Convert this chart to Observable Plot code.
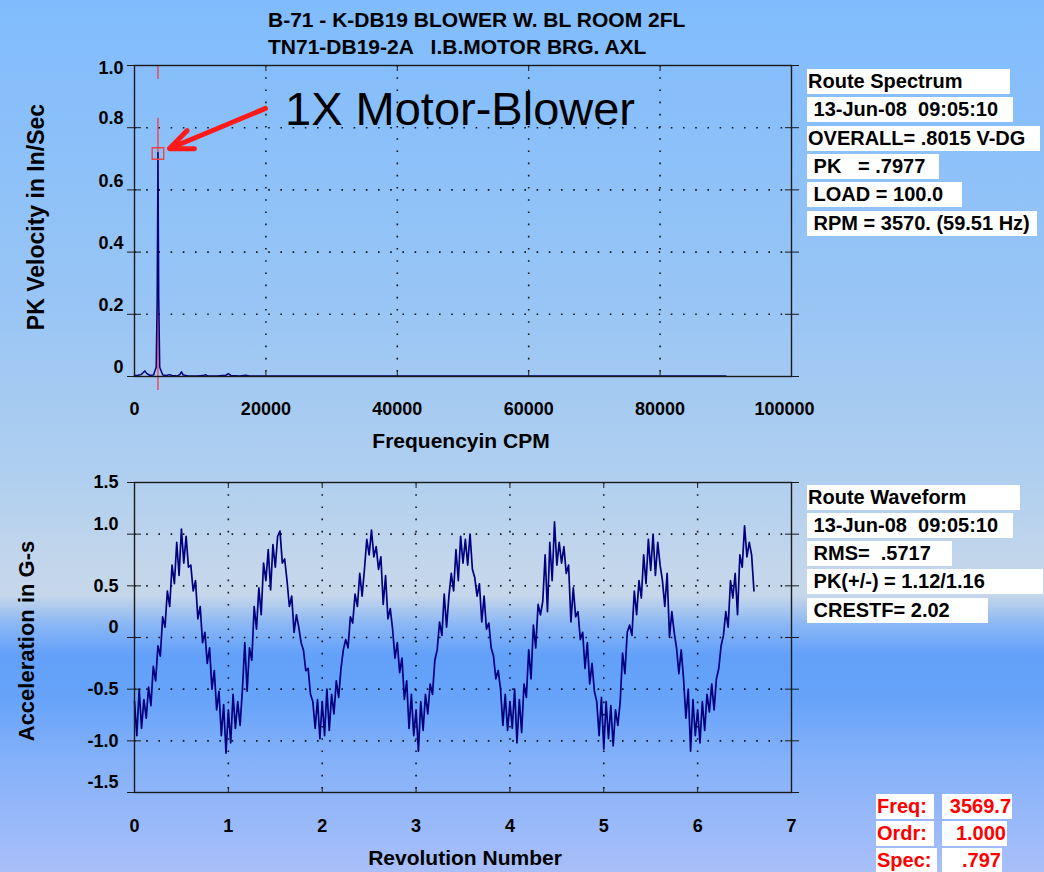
<!DOCTYPE html>
<html><head><meta charset="utf-8">
<script src="https://cdn.jsdelivr.net/npm/d3@7"></script>
<script src="https://cdn.jsdelivr.net/npm/@observablehq/plot@0.6"></script>
<style>
html,body{margin:0;padding:0;}
#root{position:relative;width:1044px;height:872px;overflow:hidden;
 font-family:"Liberation Sans",Arial,Helvetica,sans-serif;color:#000;
 background:linear-gradient(to bottom,#80bcfd 0px,#98c5f5 300px,#b0cfef 480px,#c2d6eb 560px,#c6d7ea 595px,#89b6f4 625px,#62a0f9 655px,#67a3f9 700px,#84b1f9 760px,#a9bff9 872px);}
.t{position:absolute;white-space:pre;}
.box{position:absolute;background:#fff;height:25px;line-height:25px;font-size:20px;font-weight:bold;white-space:pre;padding-left:1px;box-sizing:border-box;}
</style></head>
<body><div id="root"></div>
<script>
// ---------------- data ----------------
const titleLines = ["B-71 - K-DB19 BLOWER W. BL ROOM 2FL", "TN71-DB19-2A   I.B.MOTOR BRG. AXL"];
const spectrumXLabel = "Frequencyin CPM";
const spectrumYLabel = "PK Velocity in In/Sec";
const waveXLabel = "Revolution Number";
const waveYLabel = "Acceleration in G-s";
const annotationText = "1X Motor-Blower";

const spectrumCPM = [0,500,1000,1300,1570,1850,2300,2900,3300,3450,3570,3690,3840,4300,4900,5300,5700,6500,6900,7150,7400,8200,9500,10500,10800,11100,12500,13900,14300,14700,16000,16900,17500,20000,25000,30000,40000,50000,60000,70000,80000,90000];
const spectrumAmp = [0.003,0.004,0.006,0.012,0.018,0.010,0.004,0.005,0.03,0.25,0.72,0.25,0.03,0.005,0.003,0.006,0.003,0.002,0.006,0.015,0.005,0.002,0.002,0.003,0.006,0.002,0.002,0.004,0.009,0.003,0.002,0.004,0.002,0.002,0.002,0.002,0.002,0.002,0.002,0.002,0.002,0.002];
const spectrumXTicks = [0,20000,40000,60000,80000,100000];
const spectrumXTickLabels = ["0","20000","40000","60000","80000","100000"];
const spectrumYTicks = [0,0.2,0.4,0.6,0.8,1.0];
const spectrumYTickLabels = ["0","0.2","0.4","0.6","0.8","1.0"];
const cursorCPM = 3570;
const cursorSegments = [[1.0,0.955],[0.83,-0.045]];
const peakMarker = [{cpm:3570, amp:0.717}];
const arrowAnnotation = [{fromCPM:19940, fromAmp:0.862, toCPM:5330, toAmp:0.733}];

const spectrumInfo = ["Route Spectrum"," 13-Jun-08  09:05:10","OVERALL= .8015 V-DG"," PK   = .7977"," LOAD = 100.0"," RPM = 3570. (59.51 Hz)"];
const waveformInfo = ["Route Waveform"," 13-Jun-08  09:05:10"," RMS=  .5717"," PK(+/-) = 1.12/1.16"," CRESTF= 2.02"];
const cursorLabels = ["Freq:","Ordr:","Spec:"];
const cursorValues = ["3569.7","1.000",".797"];

const waveStep = 0.025; // revolutions per sample
const waveValues = [
-0.62,-0.95,-0.50,-0.88,-0.60,-0.78,-0.48,-0.66,-0.28,-0.42,-0.08,-0.18,0.20,0.10,0.45,0.30,0.70,0.52,0.92,0.60,1.05,0.72,0.98,0.68,0.70,0.45,0.55,0.18,0.30,-0.05,0.05,-0.25,-0.10,-0.50,-0.32,-0.70,-0.52,-0.95,-0.65,-1.12,
-0.70,-1.02,-0.55,-0.88,-0.62,-0.85,-0.50,-0.05,-0.52,-0.10,-0.22,0.30,0.08,0.48,0.22,0.72,0.55,0.85,0.46,0.90,0.68,0.98,1.03,0.72,0.76,0.55,0.30,0.40,0.05,0.22,0.10,-0.05,-0.12,-0.32,-0.30,-0.55,-0.62,-0.88,-0.60,-0.98,
-0.62,-0.95,-0.50,-0.90,-0.55,-0.74,-0.42,-0.58,-0.30,-0.12,-0.02,-0.10,0.20,0.14,0.42,0.30,0.62,0.40,0.66,0.95,0.80,1.04,0.78,0.88,0.66,0.78,0.32,0.60,0.18,0.28,0.08,-0.20,-0.05,-0.34,-0.20,-0.60,-0.42,-0.88,-0.55,-0.95,
-0.70,-1.10,-0.62,-0.90,-0.55,-0.74,-0.45,-0.55,-0.22,-0.12,0.15,0.02,0.42,0.10,0.40,0.62,0.45,0.85,0.55,0.98,0.72,0.95,0.70,1.00,0.66,0.58,0.40,0.52,0.15,0.40,0.08,0.14,-0.10,-0.18,-0.40,-0.32,-0.50,-0.85,-0.55,-0.90,
-0.62,-0.88,-0.50,-1.02,-0.60,-0.92,-0.45,-0.58,-0.12,-0.40,0.12,-0.10,0.32,0.22,0.35,0.80,0.25,0.92,0.55,1.12,0.70,0.92,0.72,0.88,0.62,0.70,0.15,0.48,0.20,0.25,-0.02,0.05,-0.30,-0.05,-0.45,-0.25,-0.52,-0.62,-0.95,-0.58,
-1.08,-0.62,-0.98,-0.66,-1.05,-0.70,-0.85,-0.62,-0.15,-0.35,0.05,0.12,0.02,0.45,0.22,0.55,0.38,0.80,0.52,0.95,0.65,1.00,0.60,0.92,0.70,0.55,0.30,0.62,0.00,0.25,0.05,-0.10,-0.35,-0.12,-0.40,-0.78,-0.50,-1.10,-0.60,-0.95,
-0.70,-1.02,-0.62,-0.90,-0.55,-0.72,-0.45,-0.70,-0.40,-0.30,-0.08,0.02,0.25,0.10,0.55,0.38,0.62,0.22,0.80,0.68,1.08,0.78,0.92,0.80,0.45
];
const waveXTicks = [0,1,2,3,4,5,6,7];
const waveXTickLabels = ["0","1","2","3","4","5","6","7"];
const waveYTicks = [-1.5,-1.0,-0.5,0,0.5,1.0,1.5];
const waveYTickLabels = ["-1.5","-1.0","-0.5","0","0.5","1.0","1.5"];

// ---------------- drawing ----------------
const root = document.getElementById("root");
const navy = "#000080";
const FONT = "'Liberation Sans', Arial, Helvetica, sans-serif";
const svgStyle = {background:"transparent", overflow:"visible", fontFamily:FONT, color:"#000"};
const gridStyle = {stroke:"#000", strokeOpacity:0.9, strokeWidth:1.6, strokeDasharray:"1.6,10.6"};
const tickLbl = {fontSize:18, fontWeight:"bold", fontFamily:FONT, label:null, tickSize:0};

function lab(ticks, labels){ return d => labels[ticks.indexOf(d)]; }

const spectrum = spectrumCPM.map((c,i)=>({cpm:c, amp:spectrumAmp[i]}));
const wave = waveValues.map((v,i)=>({rev:i*waveStep, g:v}));

const topChart = Plot.plot({
  width:1044, height:430, marginTop:65, marginBottom:54, marginLeft:134, marginRight:253,
  style:svgStyle,
  x:{domain:[0,100000], label:null}, y:{domain:[0,1], label:null},
  marks:[
    Plot.gridX({ticks:spectrumXTicks.slice(1,-1), ...gridStyle}),
    Plot.gridY({ticks:spectrumYTicks.slice(1,-1), ...gridStyle}),
    ...cursorSegments.map(s=>Plot.ruleX([cursorCPM],{y1:s[0], y2:s[1], stroke:"#ff3030", strokeWidth:1.2})),
    Plot.line(spectrum,{x:"cpm", y:"amp", stroke:navy, strokeWidth:1.5}),
    Plot.dot(peakMarker,{x:"cpm", y:"amp", symbol:"square", r:6.5, stroke:"#e84545", strokeWidth:1.3, fill:"none"}),
    Plot.frame({stroke:"#1a1a1a", strokeWidth:1.4}),
    Plot.axisY({ticks:spectrumYTicks, anchor:"left", tickSize:14, dx:7, fill:"none", label:null, stroke:"#1a1a1a"}),
    Plot.axisY({ticks:spectrumYTicks, anchor:"right", tickSize:14, dx:-7, fill:"none", label:null, stroke:"#1a1a1a"}),
    Plot.axisX({ticks:spectrumXTicks, anchor:"top", tickSize:5, dy:5, fill:"none", label:null, stroke:"#1a1a1a"}),
    Plot.axisX({ticks:spectrumXTicks, anchor:"bottom", tickSize:5, dy:-5, fill:"none", label:null, stroke:"#1a1a1a"}),
    Plot.axisY({ticks:spectrumYTicks.slice(0,-1), anchor:"left", tickPadding:11, dy:-9, tickFormat:lab(spectrumYTicks,spectrumYTickLabels), ...tickLbl}),
    Plot.axisY({ticks:spectrumYTicks.slice(-1), anchor:"left", tickPadding:11, dy:3, tickFormat:lab(spectrumYTicks,spectrumYTickLabels), ...tickLbl}),
    Plot.axisX({ticks:spectrumXTicks.slice(0,-1), anchor:"bottom", tickPadding:26, tickFormat:lab(spectrumXTicks,spectrumXTickLabels), ...tickLbl}),
    Plot.axisX({ticks:spectrumXTicks.slice(-1), anchor:"bottom", tickPadding:26, dx:-7, tickFormat:lab(spectrumXTicks,spectrumXTickLabels), ...tickLbl}),
    Plot.arrow(arrowAnnotation,{x1:"fromCPM", y1:"fromAmp", x2:"toCPM", y2:"toAmp", stroke:"#ff1a1a", strokeWidth:5, headLength:7.5, headAngle:46})
  ]
});

const bottomChart = Plot.plot({
  width:1044, height:432, marginTop:42, marginBottom:80, marginLeft:134, marginRight:253,
  style:svgStyle,
  x:{domain:[0,7], label:null}, y:{domain:[-1.5,1.5], label:null},
  marks:[
    Plot.gridX({ticks:waveXTicks.slice(1,-1), ...gridStyle}),
    Plot.gridY({ticks:waveYTicks.slice(1,-1), ...gridStyle}),
    Plot.line(wave,{x:"rev", y:"g", stroke:navy, strokeWidth:1.7}),
    Plot.frame({stroke:"#1a1a1a", strokeWidth:1.4}),
    Plot.axisY({ticks:waveYTicks, anchor:"left", tickSize:14, dx:7, fill:"none", label:null, stroke:"#1a1a1a"}),
    Plot.axisY({ticks:waveYTicks, anchor:"right", tickSize:14, dx:-7, fill:"none", label:null, stroke:"#1a1a1a"}),
    Plot.axisX({ticks:waveXTicks, anchor:"top", tickSize:5, dy:5, fill:"none", label:null, stroke:"#1a1a1a"}),
    Plot.axisX({ticks:waveXTicks, anchor:"bottom", tickSize:5, dy:-5, fill:"none", label:null, stroke:"#1a1a1a"}),
    Plot.axisY({ticks:[1.5,0.5,-0.5,-1.0], anchor:"left", tickPadding:16, dy:0, tickFormat:lab(waveYTicks,waveYTickLabels), ...tickLbl}),
    Plot.axisY({ticks:[1.0,0,-1.5], anchor:"left", tickPadding:16, dy:-10, tickFormat:lab(waveYTicks,waveYTickLabels), ...tickLbl}),
    Plot.axisX({ticks:waveXTicks, anchor:"bottom", tickPadding:27, tickFormat:lab(waveXTicks,waveXTickLabels), ...tickLbl})
  ]
});

function place(el, t){ el.style.position="absolute"; el.style.left="0px"; el.style.top=t+"px"; root.appendChild(el); }
place(topChart, 0);
place(bottomChart, 440);

function addText(txt, css){ const d=document.createElement("div"); d.className="t"; d.textContent=txt; Object.assign(d.style, css); root.appendChild(d); return d; }

// titles
titleLines.forEach((s,i)=>addText(s,{left:"268px", top:(9+27*i)+"px", fontSize:"21px", lineHeight:"21px", fontWeight:"bold"}));
// annotation
addText(annotationText,{left:"285px", top:"85px", fontSize:"47px", lineHeight:"47px"});
// axis titles
addText(spectrumXLabel,{left:"461px", top:"430px", fontSize:"21px", lineHeight:"21px", fontWeight:"bold", transform:"translateX(-50%)"});
addText(waveXLabel,{left:"465px", top:"847px", fontSize:"21px", lineHeight:"21px", fontWeight:"bold", transform:"translateX(-50%)"});
addText(spectrumYLabel,{left:"36px", top:"217px", fontSize:"23px", lineHeight:"23px", fontWeight:"bold", transform:"translate(-50%,-50%) rotate(-90deg)"});
addText(waveYLabel,{left:"27px", top:"641px", fontSize:"22px", lineHeight:"22px", fontWeight:"bold", transform:"translate(-50%,-50%) rotate(-90deg)"});

// info boxes
function addBox(txt, left, topPx, width, extra){ const d=document.createElement("div"); d.className="box"; d.textContent=txt; Object.assign(d.style,{left:left+"px", top:topPx+"px", width:width+"px"}, extra||{}); root.appendChild(d); }
const specBoxTop=[69,97,126,154,182,211], specBoxW=[203,206,233,132,155,230];
spectrumInfo.forEach((s,i)=>addBox(s,807,specBoxTop[i],specBoxW[i]));
const waveBoxTop=[485,513,541,569,598], waveBoxW=[213,206,145,236,181];
waveformInfo.forEach((s,i)=>addBox(s,807,waveBoxTop[i],waveBoxW[i]));
const curTop=[794,821,848], curLW=[58,58,61], curVW=[70,65,60];
cursorLabels.forEach((s,i)=>addBox(s,876,curTop[i],curLW[i],{color:"#ff0000"}));
cursorValues.forEach((s,i)=>addBox(s,942,curTop[i],curVW[i],{color:"#ff0000", textAlign:"right", paddingRight:"1px"}));
</script>
</body></html>
